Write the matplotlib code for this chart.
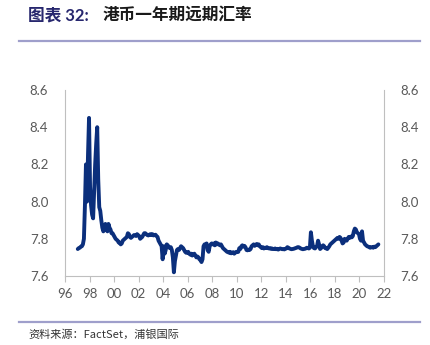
import numpy as np
import matplotlib
matplotlib.use("Agg")
import matplotlib.pyplot as plt
from matplotlib.lines import Line2D

plt.rcParams["font.family"] = ["Lato", "Noto Sans CJK SC", "DejaVu Sans"]

# HKD 1-year forward rate, monthly, Jan 1997 onwards
start_year = 1997
fwd_rate = [
    7.745, 7.750, 7.752, 7.758, 7.760, 7.770, 7.800, 7.980, 8.200, 8.000, 8.250, 8.450,  # 1997
    8.080, 7.980, 7.930, 7.910, 8.060, 8.200, 8.310, 8.400, 8.120, 7.970, 7.950, 7.900,  # 1998
    7.860, 7.840, 7.850, 7.880, 7.850, 7.840, 7.880, 7.860, 7.850, 7.830, 7.830, 7.820,  # 1999
    7.810, 7.800, 7.795, 7.790, 7.780, 7.780, 7.770, 7.775, 7.790, 7.795, 7.800, 7.805,  # 2000
    7.810, 7.830, 7.825, 7.810, 7.805, 7.810, 7.815, 7.820, 7.820, 7.815, 7.825, 7.820,  # 2001
    7.815, 7.800, 7.805, 7.810, 7.820, 7.830, 7.830, 7.825, 7.820, 7.818, 7.822, 7.825,  # 2002
    7.820, 7.825, 7.818, 7.820, 7.822, 7.815, 7.810, 7.790, 7.780, 7.770, 7.760, 7.690,  # 2003
    7.760, 7.720, 7.740, 7.770, 7.765, 7.755, 7.750, 7.755, 7.740, 7.700, 7.620, 7.680,  # 2004
    7.710, 7.740, 7.745, 7.740, 7.750, 7.760, 7.755, 7.750, 7.740, 7.730, 7.725, 7.725,  # 2005
    7.730, 7.720, 7.715, 7.720, 7.710, 7.715, 7.720, 7.710, 7.700, 7.705, 7.700, 7.690,  # 2006
    7.685, 7.675, 7.690, 7.760, 7.770, 7.765, 7.775, 7.740, 7.730, 7.760, 7.770, 7.775,  # 2007
    7.770, 7.775, 7.765, 7.780, 7.770, 7.775, 7.770, 7.765, 7.770, 7.760, 7.750, 7.745,  # 2008
    7.740, 7.735, 7.730, 7.728, 7.725, 7.730, 7.722, 7.725, 7.728, 7.720, 7.725, 7.730,  # 2009
    7.728, 7.730, 7.750, 7.745, 7.760, 7.765, 7.758, 7.762, 7.755, 7.740, 7.738, 7.742,  # 2010
    7.740, 7.745, 7.760, 7.765, 7.770, 7.762, 7.768, 7.772, 7.765, 7.770, 7.760, 7.755,  # 2011
    7.750, 7.755, 7.748, 7.752, 7.750, 7.755, 7.750, 7.748, 7.750, 7.746, 7.748, 7.745,  # 2012
    7.745, 7.748, 7.744, 7.746, 7.742, 7.745, 7.748, 7.746, 7.744, 7.745, 7.743, 7.746,  # 2013
    7.748, 7.755, 7.752, 7.748, 7.746, 7.744, 7.745, 7.746, 7.748, 7.750, 7.752, 7.755,  # 2014
    7.755, 7.752, 7.748, 7.746, 7.744, 7.745, 7.746, 7.748, 7.752, 7.750, 7.748, 7.752,  # 2015
    7.835, 7.790, 7.760, 7.750, 7.748, 7.755, 7.760, 7.790, 7.770, 7.745, 7.750, 7.760,  # 2016
    7.765, 7.760, 7.750, 7.748, 7.745, 7.752, 7.760, 7.770, 7.775, 7.780, 7.785, 7.790,  # 2017
    7.795, 7.800, 7.805, 7.800, 7.810, 7.805, 7.790, 7.775, 7.780, 7.800, 7.795, 7.790,  # 2018
    7.800, 7.810, 7.805, 7.812, 7.808, 7.815, 7.840, 7.855, 7.850, 7.835, 7.830, 7.825,  # 2019
    7.800, 7.790, 7.840, 7.790, 7.780, 7.770, 7.765, 7.760, 7.758, 7.755, 7.752, 7.755,  # 2020
    7.755, 7.752, 7.758, 7.755, 7.760, 7.765, 7.770,                                     # 2021
]
year_ticks = list(range(1996, 2023, 2))
year_labels = [f"{y % 100:02d}" for y in year_ticks]
rate_ticks = [7.6, 7.8, 8.0, 8.2, 8.4, 8.6]

x = start_year + (np.arange(len(fwd_rate)) + 0.5) / 12.0

W, H = 431, 345
fig = plt.figure(figsize=(W / 100, H / 100), dpi=100)

ax = fig.add_axes([65 / W, 1 - 276 / H, (384 - 65) / W, (276 - 90) / H])
ax.plot(x, fwd_rate, color="#0b2f7c", lw=2.8, solid_joinstyle="round",
        solid_capstyle="round")

ax.set_xlim(1996, 2022)
ax.set_ylim(7.6, 8.6)
ax.set_xticks(year_ticks)
ax.set_xticklabels(year_labels)
ax.set_yticks(rate_ticks)
ax.set_yticklabels([f"{v:.1f}" for v in rate_ticks])

grey = "#bfbfbf"
for side in ("left", "right", "bottom"):
    ax.spines[side].set_color(grey)
    ax.spines[side].set_linewidth(0.8)
ax.spines["top"].set_visible(False)
ax.tick_params(axis="x", length=4, width=0.8, color=grey, labelsize=9.5,
               labelcolor="#595959", pad=5)
ax.tick_params(axis="y", length=0, labelsize=9.5, labelcolor="#595959", pad=12,
               labelright=True, right=True)

# title block
fig.text(28 / W, 1 - 15 / H, "图表 32:", fontsize=12, fontweight="bold",
         color="#27276e", va="center", ha="left",
         family=["Lato", "Noto Sans CJK SC"])
fig.text(103 / W, 1 - 15 / H, "港币一年期远期汇率", fontsize=12, fontweight="bold",
         color="#1a1a1a", va="center", ha="left", family=["Noto Sans CJK SC"])
fig.add_artist(Line2D([19 / W, 420 / W], [1 - 41 / H, 1 - 41 / H],
                      color="#9f9fcb", lw=1.6, transform=fig.transFigure))

# source note
fig.add_artist(Line2D([19 / W, 420 / W], [1 - 322 / H, 1 - 322 / H],
                      color="#9f9fcb", lw=1.6, transform=fig.transFigure))
fig.text(28 / W, 1 - 334 / H, "资料来源：FactSet，浦银国际", fontsize=8,
         color="#333333", va="center", ha="left",
         family=["Noto Sans CJK SC", "Lato"])

fig.savefig("out.png", dpi=100)
